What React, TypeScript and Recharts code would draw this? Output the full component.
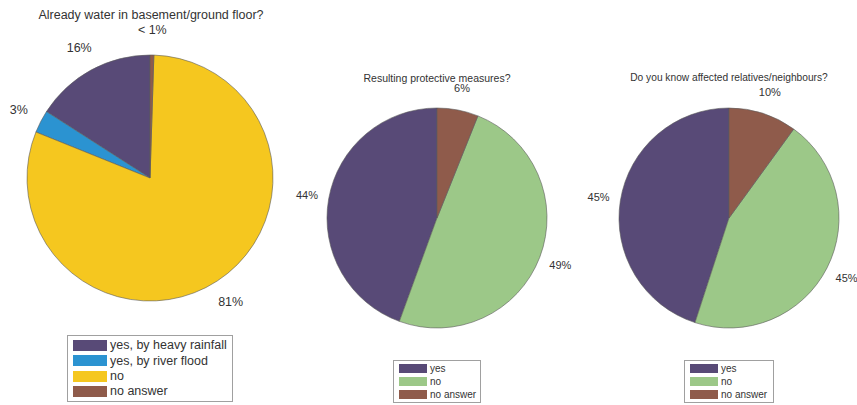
import { PieChart, Pie, Cell } from "recharts";

const purple = "#584a77";
const blue = "#2b93d1";
const yellow = "#f5c71f";
const brown = "#8f5b4b";
const green = "#9cc888";

const basementNames = ["yes, by heavy rainfall", "yes, by river flood", "no", "no answer"];
const basementValues = [16, 3, 81, 0.5];
const basementLabels = ["16%", "3%", "81%", "< 1%"];
const basementColors = [purple, blue, yellow, brown];

const measuresNames = ["yes", "no", "no answer"];
const measuresValues = [44, 49, 6];
const measuresLabels = ["44%", "49%", "6%"];

const relativesNames = ["yes", "no", "no answer"];
const relativesValues = [45, 45, 10];
const relativesLabels = ["45%", "45%", "10%"];

const threeColors = [purple, green, brown];

const font = "'Liberation Sans', Arial, sans-serif";
const RADIAN = Math.PI / 180;

function makeRows(names: string[], values: number[]) {
  return names.map((name, i) => ({ name, value: values[i] }));
}

function pctLabel(labels: string[], fontSize: number) {
  return (props: any) => {
    const { cx, cy, midAngle, outerRadius, index } = props;
    const r = outerRadius * 1.2;
    const x = cx + r * Math.cos(-midAngle * RADIAN);
    const y = cy + r * Math.sin(-midAngle * RADIAN);
    return (
      <text
        x={x}
        y={y}
        textAnchor="middle"
        dominantBaseline="central"
        fill="#333"
        fontSize={fontSize}
        fontFamily={font}
      >
        {labels[index]}
      </text>
    );
  };
}

function LegendBox({
  left,
  top,
  width,
  names,
  colors,
  fontSize,
  rowH,
  swatchW,
  swatchH,
  pad,
}: {
  left: number;
  top: number;
  width: number;
  names: string[];
  colors: string[];
  fontSize: number;
  rowH: number;
  swatchW: number;
  swatchH: number;
  pad: number;
}) {
  return (
    <div
      style={{
        position: "absolute",
        left,
        top,
        width,
        border: "1px solid #a0a0a0",
        padding: `${pad}px 0 ${pad}px 5px`,
        boxSizing: "border-box",
        background: "#fff",
      }}
    >
      {names.map((n, i) => (
        <div key={n} style={{ display: "flex", alignItems: "center", height: rowH }}>
          <div style={{ width: swatchW, height: swatchH, background: colors[i], marginRight: 3 }} />
          <span style={{ fontSize, color: "#333", whiteSpace: "nowrap", lineHeight: 1 }}>{n}</span>
        </div>
      ))}
    </div>
  );
}

export default function App() {
  return (
    <div
      style={{
        position: "absolute",
        left: 0,
        top: 0,
        width: 857,
        height: 405,
        background: "#fff",
        fontFamily: font,
        overflow: "hidden",
      }}
    >
      <div style={{ position: "absolute", left: 0, top: 0 }}>
        <PieChart width={857} height={405} margin={{ top: 0, right: 0, bottom: 0, left: 0 }}>
          <Pie
            data={makeRows(basementNames, basementValues)}
            dataKey="value"
            cx={150}
            cy={178}
            outerRadius={123}
            startAngle={90}
            endAngle={450}
            labelLine={false}
            label={pctLabel(basementLabels, 12.5)}
            isAnimationActive={false}
          >
            {basementValues.map((_, i) => (
              <Cell key={i} fill={basementColors[i]} stroke="#5a5a5a" strokeWidth={0.6} />
            ))}
          </Pie>
          <Pie
            data={makeRows(measuresNames, measuresValues)}
            dataKey="value"
            cx={437}
            cy={218}
            outerRadius={110}
            startAngle={90}
            endAngle={450}
            labelLine={false}
            label={pctLabel(measuresLabels, 11)}
            isAnimationActive={false}
          >
            {measuresValues.map((_, i) => (
              <Cell key={i} fill={threeColors[i]} stroke="#5a5a5a" strokeWidth={0.6} />
            ))}
          </Pie>
          <Pie
            data={makeRows(relativesNames, relativesValues)}
            dataKey="value"
            cx={729}
            cy={218}
            outerRadius={110}
            startAngle={90}
            endAngle={450}
            labelLine={false}
            label={pctLabel(relativesLabels, 11)}
            isAnimationActive={false}
          >
            {relativesValues.map((_, i) => (
              <Cell key={i} fill={threeColors[i]} stroke="#5a5a5a" strokeWidth={0.6} />
            ))}
          </Pie>
        </PieChart>
      </div>

      <div style={{ position: "absolute", left: 0, width: 302, top: 8, textAlign: "center", fontSize: 12.5, color: "#333" }}>
        Already water in basement/ground floor?
      </div>
      <div style={{ position: "absolute", left: 287, width: 300, top: 73, lineHeight: 1, textAlign: "center", fontSize: 10.5, color: "#333" }}>
        Resulting protective measures?
      </div>
      <div style={{ position: "absolute", left: 579, width: 300, top: 73, lineHeight: 1, textAlign: "center", fontSize: 10.2, color: "#333" }}>
        Do you know affected relatives/neighbours?
      </div>

      <LegendBox
        left={67}
        top={335}
        width={166}
        names={basementNames}
        colors={basementColors}
        fontSize={12.5}
        rowH={15.3}
        swatchW={34}
        swatchH={11}
        pad={2}
      />
      <LegendBox
        left={393}
        top={360}
        width={88}
        names={measuresNames}
        colors={threeColors}
        fontSize={10}
        rowH={13}
        swatchW={28}
        swatchH={9}
        pad={1}
      />
      <LegendBox
        left={684}
        top={360}
        width={90}
        names={relativesNames}
        colors={threeColors}
        fontSize={10}
        rowH={13}
        swatchW={28}
        swatchH={9}
        pad={1}
      />
    </div>
  );
}
